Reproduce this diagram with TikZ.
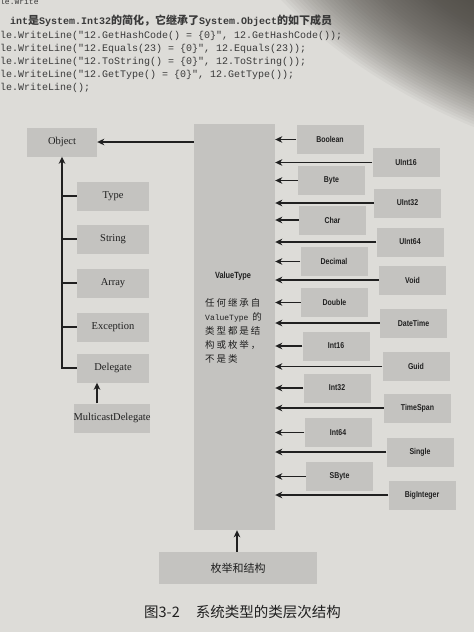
\documentclass[tikz,border=0pt]{standalone}
\usepackage{fontspec}
\setmainfont{Liberation Serif}
\setmonofont{Liberation Mono}
\newfontfamily\cjk{Noto Sans CJK SC}
\newfontfamily\cjkwide[LetterSpace=20]{Noto Sans CJK SC}
\newfontfamily\narrow[FakeStretch=0.82]{Liberation Sans}
\usetikzlibrary{arrows.meta}

\definecolor{pagegray}{RGB}{221,220,216}
\definecolor{shadowgray}{RGB}{70,66,60}
\definecolor{boxgray}{RGB}{196,195,192}
\definecolor{inkgray}{RGB}{32,32,32}
\definecolor{codegray}{RGB}{58,58,58}

\tikzset{
  classbox/.style={fill=boxgray, minimum width=72pt, minimum height=29pt, inner sep=0pt, text=inkgray, font=\fontsize{10.5}{12}\selectfont},
  valbox/.style={fill=boxgray, minimum width=67pt, minimum height=29pt, inner sep=0pt, text=inkgray, font=\narrow\bfseries\fontsize{8.5}{10}\selectfont},
  tick/.style={line width=1.3pt, draw=inkgray},
  inherit/.style={-{Stealth[length=7pt,width=6.5pt,inset=2pt]}, line width=1.3pt, draw=inkgray},
  codeline/.style={anchor=west, inner sep=0pt, text=codegray, font=\ttfamily\fontsize{10}{12}\selectfont}
}

\begin{document}
\begin{tikzpicture}[x=1pt, y=-1pt]
	\useasboundingbox (0,0) rectangle (474,632);
	\fill[pagegray] (0,0) rectangle (474,632);
	% shadow over the top right corner of the page
	\foreach \r in {1,...,60}
		\fill[shadowgray, opacity=0.045, rotate around={-25:(514,-30)}] (514,-30) ellipse ({16*\r/3} and {8*\r/3});

	% code above the figure
	\node (code0)[codeline, anchor=north west] at (0,-1) {\fontsize{8}{9}\selectfont le.Write};
	\node (code1)[codeline] at (10,21) {\bfseries int{\cjk\fontsize{11}{12}\selectfont 是}System.Int32{\cjk\fontsize{11}{12}\selectfont 的简化，它继承了}System.Object{\cjk\fontsize{11}{12}\selectfont 的如下成员}};
	\node (code2)[codeline] at (0,36) {le.WriteLine("12.GetHashCode() = \{0\}", 12.GetHashCode());};
	\node (code3)[codeline] at (0,49) {le.WriteLine("12.Equals(23) = \{0\}", 12.Equals(23));};
	\node (code4)[codeline] at (0,62) {le.WriteLine("12.ToString() = \{0\}", 12.ToString());};
	\node (code5)[codeline] at (0,75) {le.WriteLine("12.GetType() = \{0\}", 12.GetType());};
	\node (code6)[codeline] at (0,88) {le.WriteLine();};

	% reference types
	\node (Object)[classbox, minimum width=70pt] at (62,142) {Object};
	\node (Type)[classbox] at (113,196) {Type};
	\node (String)[classbox] at (113,239) {String};
	\node (Array)[classbox] at (113,283) {Array};
	\node (Exception)[classbox] at (113,327) {Exception};
	\node (Delegate)[classbox] at (113,368) {Delegate};
	\node (Multicast)[classbox, minimum width=75pt] at (112,418) {MulticastDelegate};

	\draw [inherit](Delegate.west) -| (Object.south);
	\draw [tick](Type.west) -- (Type.west -| Object.south);
	\draw [tick](String.west) -- (String.west -| Object.south);
	\draw [tick](Array.west) -- (Array.west -| Object.south);
	\draw [tick](Exception.west) -- (Exception.west -| Object.south);
	\draw [inherit](Multicast.north -| 97,0) -- (Delegate.south -| 97,0);

	% value types
	\node (ValueType)[fill=boxgray, minimum width=81pt, minimum height=406pt, inner sep=0pt] at (234.5,327) {};
	\node (vtname)[text=inkgray, font=\narrow\bfseries\fontsize{9}{10}\selectfont] at (233,276) {ValueType};
	\node (vtnote)[anchor=north west, inner sep=0pt, align=left, text=inkgray, font=\cjkwide\fontsize{9.5}{14}\selectfont] at (205,298) {任何继承自\\{\ttfamily\fontsize{8}{14}\selectfont ValueType} 的\\类型都是结\\构或枚举，\\不是类};
	\draw [inherit](ValueType.west |- Object.east) -- (Object.east);

	\node (Boolean)[valbox] at (330,139.5) {Boolean};
	\node (Byte)[valbox] at (331.5,180.5) {Byte};
	\node (Char)[valbox] at (332.5,220) {Char};
	\node (Decimal)[valbox] at (334,261.5) {Decimal};
	\node (Double)[valbox] at (334.5,302.5) {Double};
	\node (Int16)[valbox] at (336,346) {Int16};
	\node (Int32)[valbox] at (337,388) {Int32};
	\node (Int64)[valbox] at (338,432.5) {Int64};
	\node (SByte)[valbox] at (339.5,476.5) {SByte};

	\node (UInt16)[valbox] at (406,162.5) {UInt16};
	\node (UInt32)[valbox] at (407.5,203) {UInt32};
	\node (UInt64)[valbox] at (410,242) {UInt64};
	\node (Void)[valbox] at (412.5,280) {Void};
	\node (DateTime)[valbox] at (413.5,323) {DateTime};
	\node (Guid)[valbox] at (416,366.5) {Guid};
	\node (TimeSpan)[valbox] at (417.5,408) {TimeSpan};
	\node (Single)[valbox] at (420,452) {Single};
	\node (BigInteger)[valbox] at (422,495) {BigInteger};

	\draw [inherit](Boolean) -- (Boolean -| ValueType.east);
	\draw [inherit](Byte) -- (Byte -| ValueType.east);
	\draw [inherit](Char) -- (Char -| ValueType.east);
	\draw [inherit](Decimal) -- (Decimal -| ValueType.east);
	\draw [inherit](Double) -- (Double -| ValueType.east);
	\draw [inherit](Int16) -- (Int16 -| ValueType.east);
	\draw [inherit](Int32) -- (Int32 -| ValueType.east);
	\draw [inherit](Int64) -- (Int64 -| ValueType.east);
	\draw [inherit](SByte) -- (SByte -| ValueType.east);

	\draw [inherit](UInt16) -- (UInt16 -| ValueType.east);
	\draw [inherit](UInt32) -- (UInt32 -| ValueType.east);
	\draw [inherit](UInt64) -- (UInt64 -| ValueType.east);
	\draw [inherit](Void) -- (Void -| ValueType.east);
	\draw [inherit](DateTime) -- (DateTime -| ValueType.east);
	\draw [inherit](Guid) -- (Guid -| ValueType.east);
	\draw [inherit](TimeSpan) -- (TimeSpan -| ValueType.east);
	\draw [inherit](Single) -- (Single -| ValueType.east);
	\draw [inherit](BigInteger) -- (BigInteger -| ValueType.east);

	% enums and structs
	\node (Enum)[fill=boxgray, minimum width=158pt, minimum height=32pt, inner sep=0pt, text=inkgray, font=\cjk\fontsize{11}{12}\selectfont] at (238,568) {枚举和结构};
	\draw [inherit](Enum.north -| 237,0) -- (ValueType.south -| 237,0);

	\node (caption)[text=inkgray, font=\cjk\fontsize{14.5}{16}\selectfont] at (242.5,612) {图3-2\hspace{16pt}系统类型的类层次结构};
\end{tikzpicture}
\end{document}
